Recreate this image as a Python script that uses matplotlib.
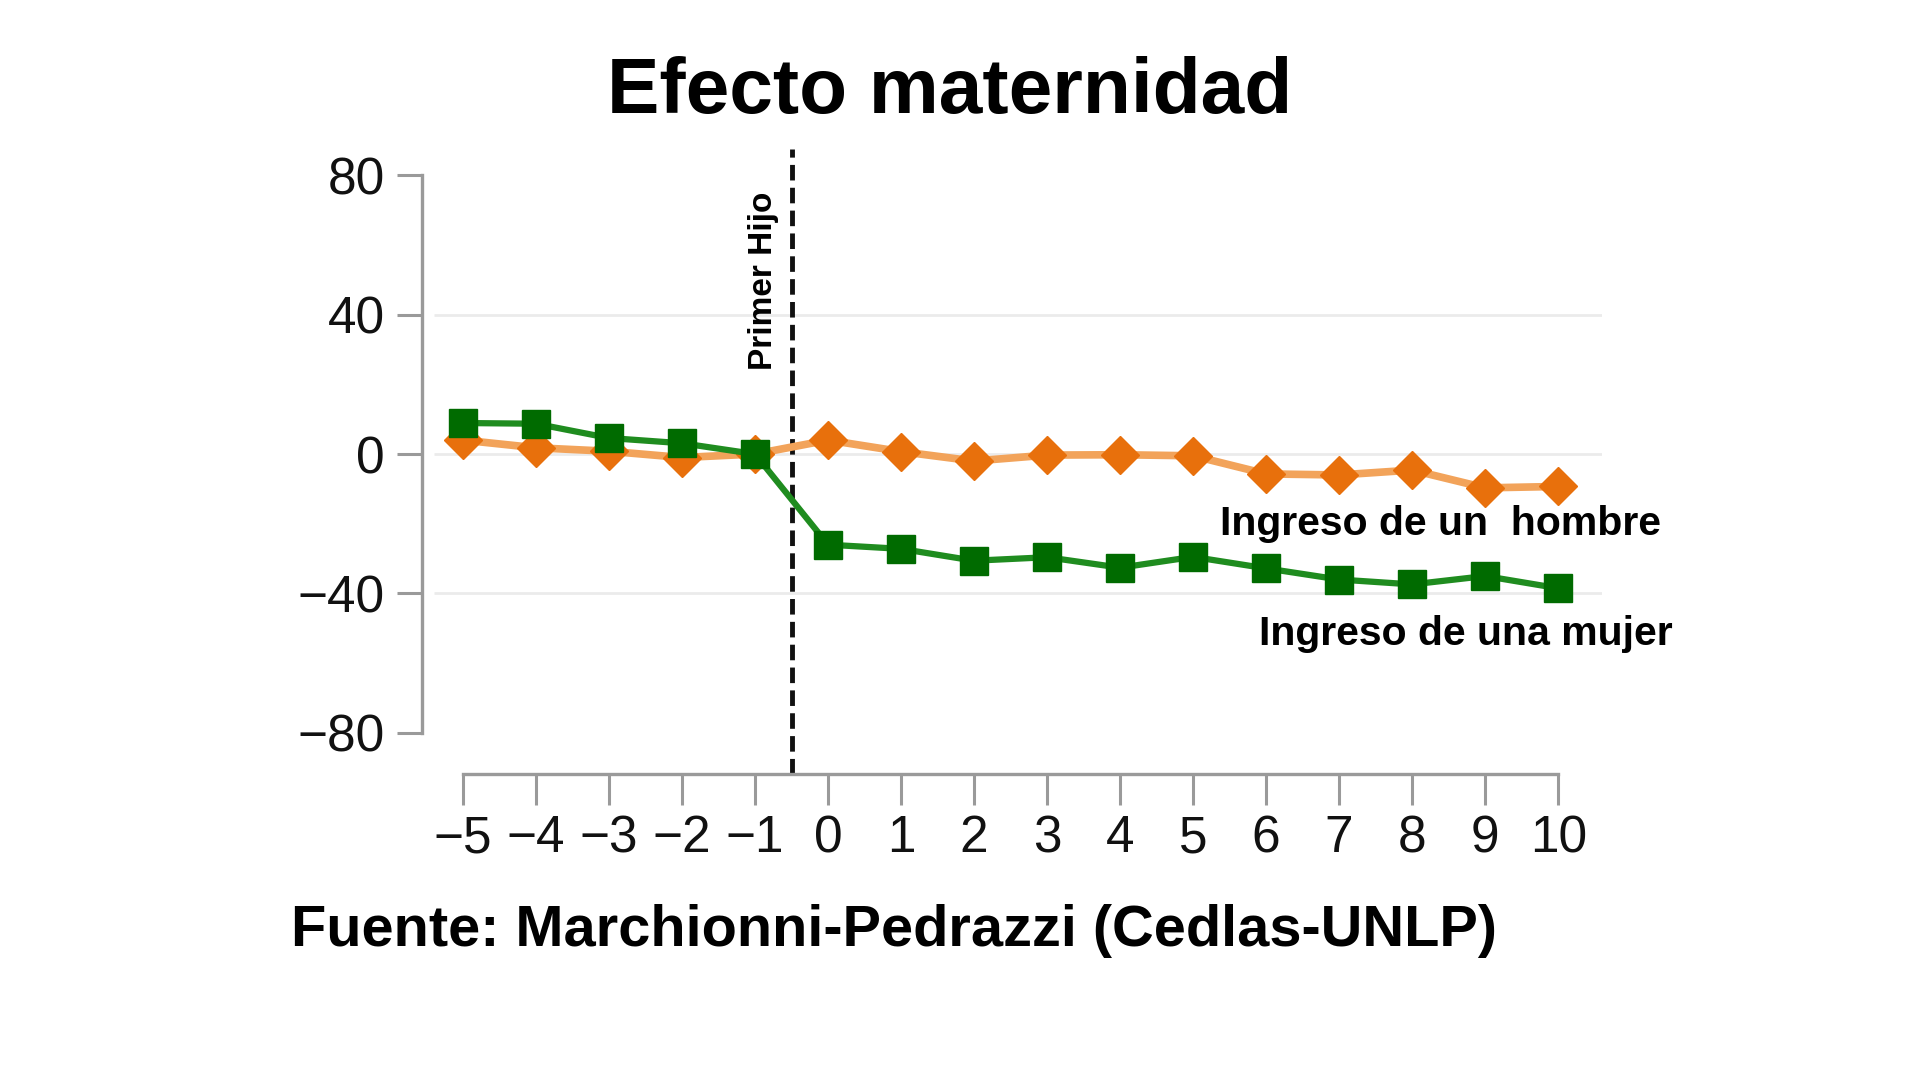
import numpy as np
import matplotlib.pyplot as plt

# datos
anios = np.arange(-5, 11)
ingreso_hombre = [4.0, 1.8, 0.8, -1.0, 0.0, 4.0, 0.7, -2.0, -0.3, -0.2, -0.5, -5.7, -6.0, -4.6, -9.7, -9.3]
ingreso_mujer = [8.9, 8.7, 4.6, 3.1, 0.0, -26.0, -27.2, -30.6, -29.6, -32.6, -29.5, -32.8, -36.0, -37.4, -35.0, -38.5]
yticks = [-80, -40, 0, 40, 80]
grid_y = [-40, 0, 40]
primer_hijo = -0.5

plt.rcParams['font.family'] = ['Liberation Sans', 'DejaVu Sans']

fig = plt.figure(figsize=(19.2, 10.8), dpi=100)
ax = fig.add_axes([0.2198, 0.2833, 0.6146, 0.5787])

ax.set_xlim(-5.56, 10.6)
ax.set_ylim(-91.8, 87.5)

# lineas guia suaves
ax.hlines(grid_y, -5.4, 10.6, colors='#ebebeb', lw=2, zorder=0)

ax.axvline(primer_hijo, color='#111111', lw=3.5, ls=(0, (3.2, 1.5)), zorder=1)

ax.plot(anios, ingreso_hombre, color='#f2a35a', lw=5.5, marker='D', ms=19,
        mfc='#e8700c', mec='#e8700c', zorder=2)
ax.plot(anios, ingreso_mujer, color='#1f8c1f', lw=4.5, marker='s', ms=20,
        mfc='#006b00', mec='#006b00', zorder=3)

# ejes estilo separado
for s in ['top', 'right']:
    ax.spines[s].set_visible(False)
ax.spines['left'].set_bounds(-80, 80)
ax.spines['bottom'].set_bounds(-5, 10)
for s in ['left', 'bottom']:
    ax.spines[s].set_color('#9a9a9a')
    ax.spines[s].set_linewidth(2.4)

ax.set_yticks(yticks)
ax.set_xticks(anios)
ax.set_xticklabels([str(a).replace('-', '\u2212') for a in anios])
ax.set_yticklabels([str(v).replace('-', '\u2212') for v in yticks])
ax.tick_params(axis='y', length=18, width=2.2, color='#9a9a9a', pad=9,
               labelsize=37, labelcolor='#111111')
ax.tick_params(axis='x', length=22, width=2.2, color='#9a9a9a', pad=7,
               labelsize=37, labelcolor='#111111')

ax.text(-0.89, 49.6, 'Primer Hijo', rotation=90, ha='center', va='center',
        fontsize=24, fontweight='bold', color='black')
ax.text(5.37, -20.1, 'Ingreso de un  hombre', ha='left', va='center',
        fontsize=29.5, fontweight='bold', color='black')
ax.text(5.9, -51.6, 'Ingreso de una mujer', ha='left', va='center',
        fontsize=29.5, fontweight='bold', color='black')

fig.text(950 / 1920, 1 - 93 / 1080, 'Efecto maternidad', ha='center', va='center',
         fontsize=56.5, fontweight='bold', color='black')
fig.text(291 / 1920, 1 - 931 / 1080, 'Fuente: Marchionni-Pedrazzi (Cedlas-UNLP)',
         ha='left', va='center', fontsize=41.6, fontweight='bold', color='black')

fig.savefig('out.png', dpi=100, facecolor='white')
